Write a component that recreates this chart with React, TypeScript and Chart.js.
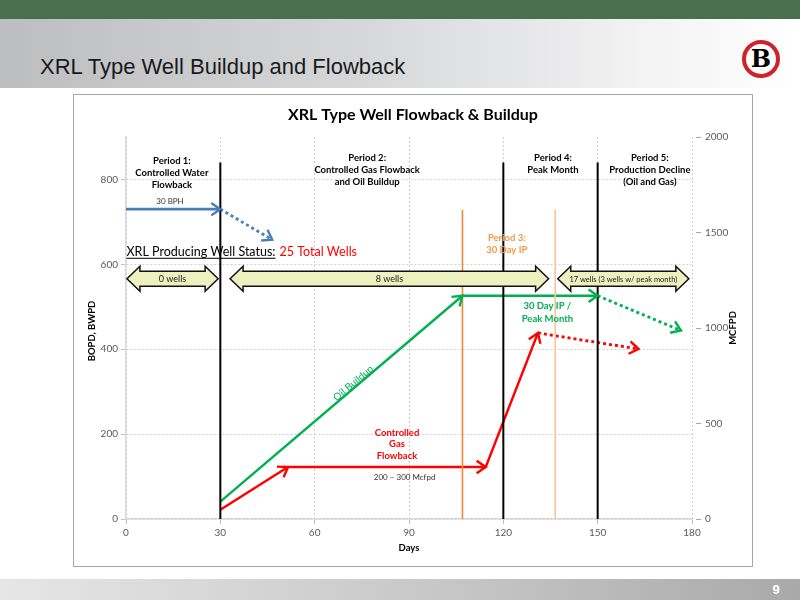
import React, { useEffect, useRef } from "react";
import { Chart, registerables } from "chart.js";

Chart.register(...registerables);

// ---------- axes ----------
const xTicks = [0, 30, 60, 90, 120, 150, 180];
const leftTicks = [0, 200, 400, 600, 800];
const rightTicks = [0, 500, 1000, 1500, 2000];
const leftMax = 900;
const rightMax = 2000;

// ---------- series (days / rate) ----------
const waterDays = [0, 30];
const waterRate = [730, 730];
const waterDeclineDays = [30, 46.5];
const waterDeclineRate = [730, 658];

const oilBuildupDays = [30, 107];
const oilBuildupRate = [41, 526];
const oilPeakDays = [107, 150];
const oilPeakRate = [526, 526];
const oilDeclineDays = [150, 176.5];
const oilDeclineRate = [526, 444];

const gasRampDays = [30, 51.5];
const gasRampRate = [48, 272];
const gasFlowbackDays = [50, 114.4];
const gasFlowbackRate = [272, 272];
const gasPeakDays = [114.4, 131];
const gasPeakRate = [272, 974];
const gasDeclineDays = [131, 163];
const gasDeclineRate = [974, 890];

// period boundaries (BOPD axis)
const periodBoundaryDays = [30, 120, 150];
const periodBoundaryTop = 840;
const ipWindowDays = [107, 136.5];
const ipWindowTop = 728;

// well status bands
const wellBandLabels = ["0 wells", "8 wells", "17 wells (3 wells w/ peak month)"];
const wellBandStart = [0.3, 33.1, 137.3];
const wellBandEnd = [29.3, 134.4, 179];
const wellBandLevel = 566;

// ---------- styles ----------
const FONT = "Lato, 'Open Sans', sans-serif";
const BLUE = "#4A7EBB";
const GREEN = "#00B050";
const RED = "#FF0000";
const ORANGE = "#F0883A";
const PEACH = "#F6C49C";

const pts = (xs: number[], ys: number[]) => xs.map((x, i) => ({ x, y: ys[i] }));

// text annotations (anchored in data coordinates)
const periodLabels = [
  { lines: ["Period 1:", "Controlled Water", "Flowback"], day: 14.6, val: 843, color: "#000", bold: true, size: 9.5, lh: 12 },
  { lines: ["Period 2:", "Controlled Gas Flowback", "and Oil Buildup"], day: 76.7, val: 851, color: "#000", bold: true, size: 9.5, lh: 12.3 },
  { lines: ["Period 4:", "Peak Month"], day: 135.8, val: 851, color: "#000", bold: true, size: 9.5, lh: 12.3 },
  { lines: ["Period 5:", "Production Decline", "(Oil and Gas)"], day: 166.6, val: 851, color: "#000", bold: true, size: 9.5, lh: 12.3 },
  { lines: ["Period 3:", "30 Day IP"], day: 121.1, val: 662, color: "#F79646", bold: true, size: 9.5, lh: 12 },
  { lines: ["30 Day IP /", "Peak Month"], day: 134.0, val: 501, color: GREEN, bold: true, size: 9.5, lh: 12.3 },
  { lines: ["Controlled", "Gas", "Flowback"], day: 86.2, val: 203, color: RED, bold: true, size: 9.5, lh: 11.5 },
  { lines: ["200 – 300 Mcfpd"], day: 88.6, val: 99, color: "#333", bold: false, size: 8, lh: 10 },
  { lines: ["30 BPH"], day: 14.0, val: 748, color: "#333", bold: false, size: 8, lh: 10 },
];

function App() {
  const ref = useRef<HTMLCanvasElement>(null);

  useEffect(() => {
    const canvas = ref.current;
    if (!canvas) return;

    const datasets: any[] = [];
    periodBoundaryDays.forEach((d) =>
      datasets.push({ data: pts([d, d], [0, periodBoundaryTop]), borderColor: "#000", borderWidth: 2, yAxisID: "y" })
    );
    ipWindowDays.forEach((d, i) =>
      datasets.push({ data: pts([d, d], [0, ipWindowTop]), borderColor: i === 0 ? ORANGE : PEACH, borderWidth: 1.6, yAxisID: "y" })
    );
    const segs = [
      { xs: waterDays, ys: waterRate, c: BLUE, dash: [], axis: "y", w: 2.8 },
      { xs: waterDeclineDays, ys: waterDeclineRate, c: BLUE, dash: [3, 3], axis: "y", w: 2.8 },
      { xs: oilBuildupDays, ys: oilBuildupRate, c: GREEN, dash: [], axis: "y", w: 2.4 },
      { xs: oilPeakDays, ys: oilPeakRate, c: GREEN, dash: [], axis: "y", w: 2.4 },
      { xs: oilDeclineDays, ys: oilDeclineRate, c: GREEN, dash: [3, 3], axis: "y", w: 2.8 },
      { xs: gasRampDays, ys: gasRampRate, c: RED, dash: [], axis: "y2", w: 2.4 },
      { xs: gasFlowbackDays, ys: gasFlowbackRate, c: RED, dash: [], axis: "y2", w: 2.4 },
      { xs: gasPeakDays, ys: gasPeakRate, c: RED, dash: [], axis: "y2", w: 2.4 },
      { xs: gasDeclineDays, ys: gasDeclineRate, c: RED, dash: [3, 3], axis: "y2", w: 2.8 },
    ];
    segs.forEach((s) =>
      datasets.push({
        data: pts(s.xs, s.ys),
        borderColor: s.c,
        borderWidth: s.w,
        borderDash: s.dash,
        yAxisID: s.axis,
        arrowHead: true,
      })
    );

    const annotate = {
      id: "annotate",
      afterDatasetsDraw(chart: any) {
        const ctx: CanvasRenderingContext2D = chart.ctx;
        const xs = chart.scales.x;
        const yl = chart.scales.y;
        const area = chart.chartArea;
        ctx.save();

        // arrowheads
        chart.data.datasets.forEach((ds: any, i: number) => {
          if (!ds.arrowHead) return;
          const p = chart.getDatasetMeta(i).data;
          const a = p[p.length - 2];
          const b = p[p.length - 1];
          const ang = Math.atan2(b.y - a.y, b.x - a.x);
          const L = 11;
          const sp = 0.6;
          ctx.beginPath();
          ctx.moveTo(b.x - L * Math.cos(ang - sp), b.y - L * Math.sin(ang - sp));
          ctx.lineTo(b.x, b.y);
          ctx.lineTo(b.x - L * Math.cos(ang + sp), b.y - L * Math.sin(ang + sp));
          ctx.setLineDash([]);
          ctx.strokeStyle = ds.borderColor;
          ctx.lineWidth = Math.min(ds.borderWidth, 2.4);
          ctx.lineJoin = "miter";
          ctx.stroke();
        });

        // well status block arrows
        const outerH = 25;
        const bodyH = 15;
        const head = 13;
        wellBandLabels.forEach((lab, i) => {
          const x1 = xs.getPixelForValue(wellBandStart[i]);
          const x2 = xs.getPixelForValue(wellBandEnd[i]);
          const yc = yl.getPixelForValue(wellBandLevel);
          ctx.beginPath();
          ctx.moveTo(x1, yc);
          ctx.lineTo(x1 + head, yc - outerH / 2);
          ctx.lineTo(x1 + head, yc - bodyH / 2);
          ctx.lineTo(x2 - head, yc - bodyH / 2);
          ctx.lineTo(x2 - head, yc - outerH / 2);
          ctx.lineTo(x2, yc);
          ctx.lineTo(x2 - head, yc + outerH / 2);
          ctx.lineTo(x2 - head, yc + bodyH / 2);
          ctx.lineTo(x1 + head, yc + bodyH / 2);
          ctx.lineTo(x1 + head, yc + outerH / 2);
          ctx.closePath();
          ctx.fillStyle = "#EDF1C0";
          ctx.fill();
          ctx.setLineDash([]);
          ctx.lineWidth = 1.5;
          ctx.strokeStyle = "#111";
          ctx.lineJoin = "miter";
          ctx.stroke();
          ctx.fillStyle = "#222";
          ctx.font = `${i === 2 ? 7.5 : 9}px ${FONT}`;
          ctx.textAlign = "center";
          ctx.textBaseline = "middle";
          ctx.fillText(lab, (x1 + x2) / 2, yc + 0.5);
        });

        // text labels
        ctx.textAlign = "center";
        ctx.textBaseline = "middle";
        periodLabels.forEach((l) => {
          const x = xs.getPixelForValue(l.day);
          const y = yl.getPixelForValue(l.val);
          ctx.fillStyle = l.color;
          ctx.font = `${l.bold ? "bold " : ""}${l.size}px ${FONT}`;
          l.lines.forEach((t, k) => ctx.fillText(t, x, y + k * l.lh));
        });

        // Oil Buildup rotated label
        {
          const meta = chart.getDatasetMeta(7).data;
          const ang = Math.atan2(meta[1].y - meta[0].y, meta[1].x - meta[0].x);
          const x = xs.getPixelForValue(72.3);
          const y = yl.getPixelForValue(320);
          ctx.save();
          ctx.translate(x, y);
          ctx.rotate(ang);
          ctx.fillStyle = GREEN;
          ctx.font = `10px ${FONT}`;
          ctx.fillText("Oil Buildup", 0, 0);
          ctx.restore();
        }

        // well status heading
        {
          const x = xs.getPixelForValue(0) + 0.5;
          const y = yl.getPixelForValue(619);
          ctx.textAlign = "left";
          ctx.textBaseline = "alphabetic";
          ctx.font = `12.5px ${FONT}`;
          ctx.fillStyle = "#000";
          const t1 = "XRL Producing Well Status:";
          ctx.fillText(t1, x, y);
          const w1 = ctx.measureText(t1).width;
          ctx.fillRect(x, y + 1.5, w1, 1);
          ctx.fillStyle = RED;
          ctx.fillText("25 Total Wells", x + w1 + 4, y);
        }

        // chart title
        ctx.textAlign = "center";
        ctx.textBaseline = "alphabetic";
        ctx.fillStyle = "#000";
        ctx.font = `bold 16px ${FONT}`;
        ctx.fillText("XRL Type Well Flowback & Buildup", chart.width / 2, 25);

        // axis titles
        ctx.font = `bold 9.5px ${FONT}`;
        ctx.textBaseline = "middle";
        ctx.fillText("Days", (area.left + area.right) / 2, 453);
        const cy = (area.top + area.bottom) / 2;
        ctx.save();
        ctx.translate(18, cy + 3);
        ctx.rotate(-Math.PI / 2);
        ctx.fillText("BOPD, BWPD", 0, 0);
        ctx.restore();
        ctx.save();
        ctx.translate(659, cy);
        ctx.rotate(-Math.PI / 2);
        ctx.fillText("MCFPD", 0, 0);
        ctx.restore();

        ctx.restore();
      },
    };

    const tickFont = { family: FONT, size: 10 };
    const plain = (v: any) => String(v);
    const chart = new Chart(canvas, {
      type: "line",
      data: { datasets },
      options: {
        animation: false,
        responsive: false,
        devicePixelRatio: 1,
        layout: { padding: { top: 42, left: 0, right: 0, bottom: 0 } },
        elements: { point: { radius: 0 }, line: { tension: 0, fill: false, borderCapStyle: "butt" } },
        plugins: { legend: { display: false }, tooltip: { enabled: false }, title: { display: false } },
        scales: {
          x: {
            type: "linear",
            min: 0,
            max: 180,
            afterBuildTicks: (s: any) => {
              s.ticks = xTicks.map((v) => ({ value: v }));
            },
            afterFit: (s: any) => {
              s.height = 47;
            },
            grid: { color: "#cfcfcf", lineWidth: 1, tickLength: 5, tickColor: "#bfbfbf", tickBorderDash: [] },
            border: { display: true, color: "#d9d9d9", width: 1.5, dash: [2, 2] },
            ticks: { color: "#595959", font: tickFont, padding: 3, maxRotation: 0, callback: plain },
          },
          y: {
            type: "linear",
            position: "left",
            min: 0,
            max: leftMax,
            afterBuildTicks: (s: any) => {
              s.ticks = leftTicks.map((v) => ({ value: v }));
            },
            afterFit: (s: any) => {
              s.width = 52;
            },
            grid: { color: "#cfcfcf", lineWidth: 1, tickLength: 5, tickColor: "#bfbfbf", tickBorderDash: [] },
            border: { display: true, color: "#d9d9d9", width: 1.5, dash: [2, 2] },
            ticks: { color: "#595959", font: tickFont, padding: 3, callback: plain },
          },
          y2: {
            type: "linear",
            position: "right",
            min: 0,
            max: rightMax,
            afterBuildTicks: (s: any) => {
              s.ticks = rightTicks.map((v) => ({ value: v }));
            },
            afterFit: (s: any) => {
              s.width = 60;
            },
            grid: {
              drawOnChartArea: false,
              tickLength: 9,
              tickColor: "#a6a6a6",
              tickBorderDash: [0, 4, 5, 100],
            },
            border: { display: false },
            ticks: { color: "#595959", font: tickFont, padding: 4, callback: plain },
          },
        },
      } as any,
      plugins: [annotate],
    });
    return () => chart.destroy();
  }, []);

  return (
    <div
      style={{
        position: "fixed",
        left: 0,
        top: 0,
        width: 800,
        height: 600,
        background: "#fff",
        overflow: "hidden",
        fontFamily: "'Liberation Sans', Arial, sans-serif",
      }}
    >
      <div style={{ position: "absolute", left: 0, top: 0, width: 800, height: 19, background: "#48704F" }} />
      <div
        style={{
          position: "absolute",
          left: 0,
          top: 19,
          width: 800,
          height: 69,
          background: "linear-gradient(to right, #bcbdbf 0%, #d6d7d9 45%, #f2f2f3 80%, #ffffff 100%)",
        }}
      />
      <div
        style={{
          position: "absolute",
          left: 40,
          top: 56,
          fontSize: 22,
          lineHeight: "22px",
          color: "#1a1a1a",
          whiteSpace: "nowrap",
        }}
      >
        XRL Type Well Buildup and Flowback
      </div>
      <div
        style={{
          position: "absolute",
          left: 742,
          top: 40,
          width: 38,
          height: 38,
          boxSizing: "border-box",
          borderRadius: "50%",
          border: "4px solid #D0222A",
          background: "#fff",
          display: "flex",
          alignItems: "center",
          justifyContent: "center",
          fontFamily: "'DejaVu Serif', serif",
          fontWeight: 900,
          fontSize: 24,
          color: "#000",
          lineHeight: "24px",
        }}
      >
        B
      </div>
      <div
        style={{
          position: "absolute",
          left: 73,
          top: 94,
          width: 680,
          height: 473,
          boxSizing: "border-box",
          border: "1px solid #a6a6a6",
        }}
      />
      <canvas
        ref={ref}
        width={678}
        height={471}
        style={{ position: "absolute", left: 74, top: 95, width: 678, height: 471, display: "block" }}
      />
      <div
        style={{
          position: "absolute",
          left: 0,
          top: 579,
          width: 800,
          height: 21,
          background: "linear-gradient(to right, #e6e6e6 0%, #c4c4c4 60%, #a9a9a9 100%)",
        }}
      />
      <div
        style={{
          position: "absolute",
          left: 770,
          top: 582,
          width: 12,
          textAlign: "center",
          fontSize: 13,
          lineHeight: "16px",
          color: "#fff",
          fontWeight: "bold",
        }}
      >
        9
      </div>
    </div>
  );
}

export default App;
